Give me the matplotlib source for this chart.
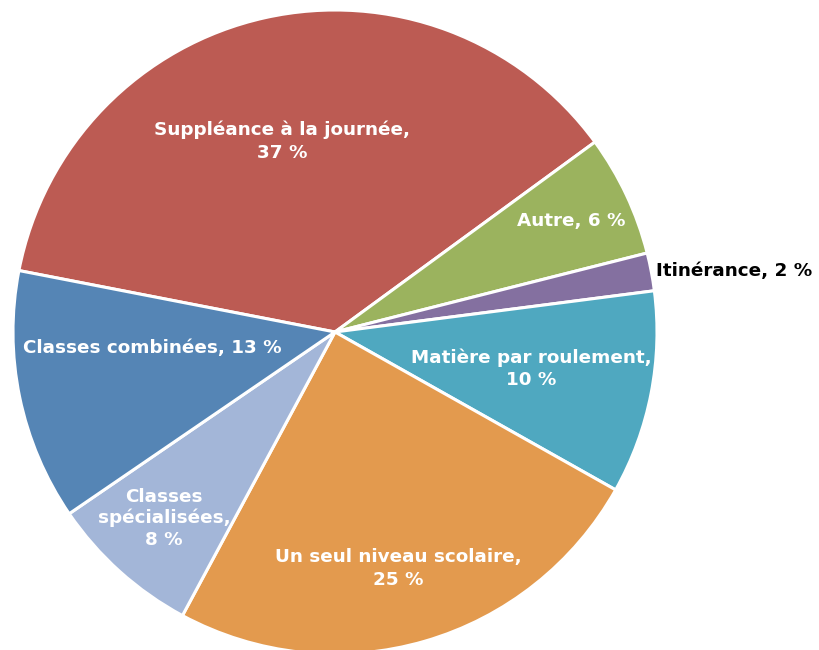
import matplotlib
matplotlib.use("Agg")
import matplotlib.pyplot as plt
import numpy as np

categories = ["Suppléance à la journée", "Autre", "Itinérance", "Matière par roulement",
              "Un seul niveau scolaire", "Classes spécialisées", "Classes combinées"]
values = [36.9, 6.1, 1.9, 10.2, 24.7, 7.6, 12.6]
label_texts = ["Suppléance à la journée,\n37 %", "Autre, 6 %", "Itinérance, 2 %",
               "Matière par roulement,\n10 %", "Un seul niveau scolaire,\n25 %",
               "Classes\nspécialisées,\n8 %", "Classes combinées, 13 %"]
colors = ["#BC5B53", "#9BB35E", "#8470A0", "#4FA8C0", "#E39A4E", "#A3B6D8", "#5585B5"]

W, H = 820, 650
fig = plt.figure(figsize=(W / 100, H / 100), dpi=100)
cx, cy, r = 335, 332, 322
ax = fig.add_axes([(cx - r) / W, (H - cy - r) / H, 2 * r / W, 2 * r / H])

wedges, _ = ax.pie(values, colors=colors, startangle=169, counterclock=False,
                   radius=1, wedgeprops=dict(edgecolor="white", linewidth=2.2))
ax.set_xlim(-1, 1)
ax.set_ylim(-1, 1)
ax.set_aspect("equal")
ax.axis("off")
for w in wedges:
    w.set_clip_on(False)

# label placement: (radius fraction, angle offset deg, linespacing)
placements = [(0.615, 3.0, 1.3), (0.81, 0.0, 1.3), (1.0, 0, 1.3), (0.62, 0.5, 1.3),
              (0.76, -1.2, 1.3), (0.785, -0.6, 1.22), (0.57, -6.8, 1.3)]
for w, txt, (rf, da, ls) in zip(wedges, label_texts, placements):
    mid = np.deg2rad((w.theta1 + w.theta2) / 2 + da)
    if txt.startswith("Itinérance"):
        ax.text(0.997, 0.19, txt, ha="left", va="center", fontsize=13.2,
                fontweight="bold", color="black", clip_on=False)
        continue
    ax.text(rf * np.cos(mid), rf * np.sin(mid), txt, ha="center", va="center",
            fontsize=13.2, fontweight="bold", color="white", linespacing=ls)

fig.savefig("out.png", dpi=100)
